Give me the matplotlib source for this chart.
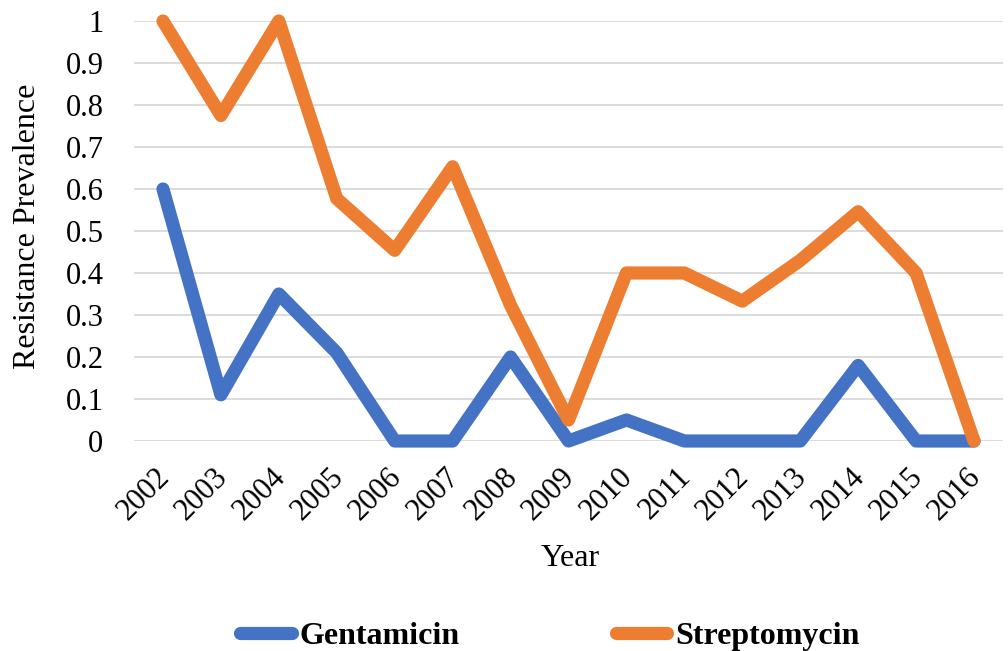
import matplotlib.pyplot as plt
from matplotlib.lines import Line2D
from matplotlib.transforms import ScaledTranslation

years = ['2002', '2003', '2004', '2005', '2006', '2007', '2008', '2009',
         '2010', '2011', '2012', '2013', '2014', '2015', '2016']
gentamicin = [0.6, 0.11, 0.35, 0.21, 0, 0, 0.2, 0, 0.05, 0, 0, 0, 0.18, 0, 0]
streptomycin = [1.0, 0.775, 1.0, 0.577, 0.454, 0.653, 0.323, 0.05, 0.4, 0.4,
                0.333, 0.43, 0.546, 0.4, 0]

plt.rcParams['font.family'] = ['Liberation Serif', 'DejaVu Serif']

fig = plt.figure(figsize=(10.08, 6.51), dpi=100)
ax = fig.add_axes([134 / 1008, 1 - 441 / 651, (1003 - 134) / 1008, 420 / 651])

x = range(len(years))
lw = 9.5
ax.plot(x, gentamicin, color='#4472C4', linewidth=lw, solid_capstyle='round',
        solid_joinstyle='round', label='Gentamicin', clip_on=False, zorder=3)
ax.plot(x, streptomycin, color='#ED7D31', linewidth=lw, solid_capstyle='round',
        solid_joinstyle='round', label='Streptomycin', clip_on=False, zorder=3)

ax.set_xlim(-0.5, len(years) - 0.5)
ax.set_ylim(0, 1)
ax.set_yticks([i / 10 for i in range(11)])
ax.set_yticklabels(['0', '0.1', '0.2', '0.3', '0.4', '0.5', '0.6', '0.7', '0.8', '0.9', '1'])
ax.set_xticks(list(x))
ax.set_xticklabels(years, rotation=45, ha='right', rotation_mode='anchor')
ax.tick_params(axis='both', length=0, labelsize=22)
ax.tick_params(axis='y', pad=22)
ax.tick_params(axis='x', pad=14)
# nudge the rotated year labels a little left, as in the original
shift = ScaledTranslation(-8 / 100, -2 / 100, fig.dpi_scale_trans)
for lab in ax.get_xticklabels():
    lab.set_transform(lab.get_transform() + shift)

ax.grid(axis='y', color='#D9D9D9', linewidth=1.3)
ax.set_axisbelow(True)
for s in ax.spines.values():
    s.set_visible(False)

fig.text(570 / 1008, 1 - 559 / 651, 'Year', ha='center', va='center', fontsize=23)
fig.text(28 / 1008, 1 - 226 / 651, 'Resistance Prevalence', ha='center', va='center',
         rotation=90, fontsize=23)

handles = [Line2D([], [], color='#4472C4', linewidth=lw, solid_capstyle='round'),
           Line2D([], [], color='#ED7D31', linewidth=lw, solid_capstyle='round')]
fig.legend(handles, ['Gentamicin', 'Streptomycin'], loc='center',
           bbox_to_anchor=(550 / 1008, 1 - 636 / 651), ncol=2, frameon=False,
           prop={'weight': 'bold', 'size': 23}, handlelength=1.6,
           handletextpad=0.25, columnspacing=4.9)

fig.savefig('out.png', dpi=100)
